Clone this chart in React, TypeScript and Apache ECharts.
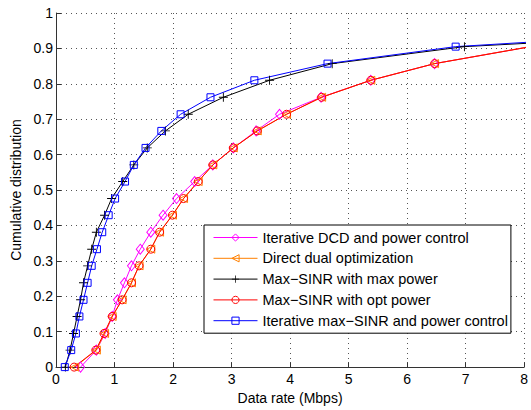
import React, { useEffect, useRef } from "react";
import * as echarts from "echarts";

const cdfLevels = [0, 0.048, 0.095, 0.143, 0.19, 0.238, 0.286, 0.333, 0.381, 0.429, 0.476, 0.524, 0.571, 0.619, 0.667, 0.714, 0.762, 0.81, 0.857, 0.905, 0.952];

const dcdX = [0.42, 0.69, 0.84, 0.96, 1.05, 1.17, 1.29, 1.44, 1.62, 1.83, 2.06, 2.37, 2.68, 3.03, 3.42, 3.82, 4.53, 5.38, 6.47, 8.1];
const dualX = [0.32, 0.69, 0.83, 0.96, 1.13, 1.29, 1.42, 1.62, 1.77, 1.99, 2.18, 2.43, 2.68, 3.03, 3.44, 3.94, 4.54, 5.38, 6.47, 8.1];
const maxPowX = [0.16, 0.24, 0.3, 0.36, 0.42, 0.47, 0.54, 0.61, 0.69, 0.83, 0.95, 1.14, 1.33, 1.56, 1.87, 2.26, 2.86, 3.65, 4.72, 6.98, 12.3];
const optPowX = [0.31, 0.68, 0.82, 0.96, 1.13, 1.29, 1.42, 1.62, 1.77, 1.99, 2.18, 2.43, 2.68, 3.03, 3.44, 3.94, 4.54, 5.38, 6.47, 8.12];
const iterX = [0.15, 0.26, 0.34, 0.4, 0.47, 0.54, 0.61, 0.7, 0.79, 0.9, 1.01, 1.18, 1.33, 1.53, 1.8, 2.13, 2.64, 3.39, 4.64, 6.83, 11.5];

const seriesNames = [
  "Iterative DCD and power control",
  "Direct dual optimization",
  "Max\u2212SINR with max power",
  "Max\u2212SINR with opt power",
  "Iterative max\u2212SINR and power control",
];

const xTicks = [0, 1, 2, 3, 4, 5, 6, 7, 8];
const yTicks = [0, 0.1, 0.2, 0.3, 0.4, 0.5, 0.6, 0.7, 0.8, 0.9, 1];

const FONT = "'Liberation Sans', Arial, Helvetica, sans-serif";
const PLUS = "path://M9,0h2v9h9v2h-9v9h-2v-9h-9v-2h9z";

function pairs(xs: number[]) {
  return xs.map((x, i) => [x, cdfLevels[i]]);
}

export default function App() {
  const ref = useRef<HTMLDivElement>(null);
  useEffect(() => {
    document.body.style.margin = "0";
    if (!ref.current) return;
    const chart = echarts.init(ref.current, null, { renderer: "svg" });
    const mk = (
      name: string,
      xs: number[],
      color: string,
      symbol: string,
      size: number | number[],
      rotate: number,
      filled: boolean
    ) => ({
      name,
      type: "line",
      data: pairs(xs),
      symbol,
      symbolSize: size,
      symbolRotate: rotate,
      showSymbol: true,
      clip: true,
      lineStyle: { color, width: 1 },
      itemStyle: filled
        ? { color, borderWidth: 0 }
        : { color: "rgba(0,0,0,0)", borderColor: color, borderWidth: 1 },
      emphasis: { disabled: true },
      z: 2,
    });
    chart.setOption({
      animation: false,
      backgroundColor: "#fff",
      textStyle: { fontFamily: FONT },
      grid: { left: 56, right: 6, top: 13, bottom: 37, containLabel: false },
      legend: {
        orient: "vertical",
        left: 204,
        top: 225,
        selectedMode: false,
        backgroundColor: "#fff",
        borderColor: "#000",
        borderWidth: 1,
        borderRadius: 0,
        padding: [5, 3, 5, 9],
        itemWidth: 44,
        itemHeight: 9,
        itemGap: 5.8,
        textStyle: { fontFamily: FONT, fontSize: 14.5, color: "#000" },
        itemStyle: { borderWidth: 1 },
        lineStyle: { width: 1 },
        data: seriesNames,
      },
      xAxis: {
        type: "value",
        min: 0,
        max: 8,
        interval: 1,
        name: "Data rate (Mbps)",
        nameLocation: "middle",
        nameGap: 21,
        nameTextStyle: { fontFamily: FONT, fontSize: 14, color: "#000" },
        axisLine: { show: true, onZero: false, lineStyle: { color: "#333", width: 1 } },
        axisTick: { show: true, inside: true, length: 5, lineStyle: { color: "#333" } },
        axisLabel: {
          margin: 5,
          fontFamily: FONT,
          fontSize: 14,
          color: "#000",
          formatter: (v: number) => (xTicks.includes(v) ? String(v) : ""),
        },
        splitLine: { show: true, lineStyle: { color: "#555", width: 1, type: [1, 4] } },
      },
      yAxis: {
        type: "value",
        min: 0,
        max: 1,
        interval: 0.1,
        name: "Cumulative distribution",
        nameLocation: "middle",
        nameGap: 31,
        nameTextStyle: { fontFamily: FONT, fontSize: 14, color: "#000" },
        axisLine: { show: true, onZero: false, lineStyle: { color: "#333", width: 1 } },
        axisTick: { show: true, inside: true, length: 5, lineStyle: { color: "#333" } },
        axisLabel: {
          margin: 3,
          fontFamily: FONT,
          fontSize: 14,
          color: "#000",
          formatter: (v: number) => {
            const r = Math.round(v * 10) / 10;
            return yTicks.includes(r) ? String(r) : "";
          },
        },
        splitLine: { show: true, lineStyle: { color: "#555", width: 1, type: [1, 4] } },
      },
      series: [
        mk(seriesNames[0], dcdX, "#ff00ff", "diamond", [8, 10], 0, false),
        mk(seriesNames[1], dualX, "#ff8000", "triangle", 8, 90, false),
        mk(seriesNames[2], maxPowX, "#000000", PLUS, 9, 0, true),
        mk(seriesNames[3], optPowX, "#ff0000", "circle", 8, 0, false),
        mk(seriesNames[4], iterX, "#0000ff", "rect", 7, 0, false),
      ],
    });
    return () => chart.dispose();
  }, []);
  return <div ref={ref} style={{ width: 531, height: 410 }} />;
}
